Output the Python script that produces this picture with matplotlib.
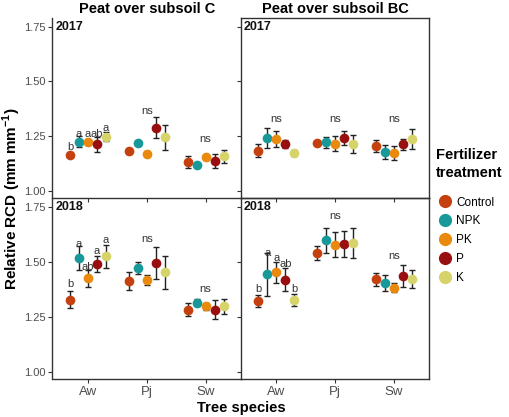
import matplotlib
matplotlib.use("Agg")
import matplotlib.pyplot as plt
from matplotlib.lines import Line2D
import numpy as np

plt.rcParams["font.family"] = ["Liberation Sans", "DejaVu Sans"]
plt.rcParams["mathtext.fontset"] = "custom"
plt.rcParams["mathtext.rm"] = "Liberation Sans"
plt.rcParams["mathtext.bf"] = "Liberation Sans:bold"

species = ["Aw", "Pj", "Sw"]
treatments = ["Control", "NPK", "PK", "P", "K"]
colors = ["#C4410F", "#17999A", "#E98A0E", "#990F0F", "#D5D36A"]

# means / errors per species (rows) and treatment (cols)
c2017_mean = [[1.164, 1.224, 1.224, 1.212, 1.248],
              [1.181, 1.219, 1.170, 1.288, 1.245],
              [1.133, 1.117, 1.153, 1.135, 1.158]]
c2017_err = [[0.008, 0.025, 0.013, 0.033, 0.020],
             [0.012, 0.008, 0.013, 0.048, 0.057],
             [0.028, 0.008, 0.012, 0.031, 0.030]]
bc2017_mean = [[1.184, 1.241, 1.236, 1.212, 1.173],
               [1.218, 1.221, 1.216, 1.241, 1.215],
               [1.204, 1.179, 1.173, 1.212, 1.236]]
bc2017_err = [[0.029, 0.044, 0.036, 0.018, 0.014],
              [0.008, 0.025, 0.036, 0.031, 0.040],
              [0.028, 0.032, 0.034, 0.025, 0.045]]
c2018_mean = [[1.327, 1.516, 1.424, 1.489, 1.525],
              [1.412, 1.473, 1.417, 1.493, 1.452],
              [1.282, 1.314, 1.297, 1.282, 1.297]]
c2018_err = [[0.039, 0.055, 0.037, 0.037, 0.052],
             [0.042, 0.027, 0.023, 0.073, 0.074],
             [0.029, 0.015, 0.014, 0.042, 0.034]]
bc2018_mean = [[1.322, 1.443, 1.453, 1.419, 1.325],
               [1.540, 1.597, 1.577, 1.582, 1.585],
               [1.420, 1.404, 1.383, 1.435, 1.421]]
bc2018_err = [[0.029, 0.097, 0.048, 0.054, 0.027],
              [0.033, 0.057, 0.057, 0.059, 0.070],
              [0.031, 0.038, 0.022, 0.050, 0.042]]

# significance letters for Aw, and "ns" labels per species
c2017_letters = ["b", "a", "a", "ab", "a"]
c2017_letter_y = [1.202, 1.261, 1.261, 1.261, 1.287]
c2017_ns_y = [None, 1.365, 1.238]
bc2017_ns_y = [1.33, 1.33, 1.33]
c2018_letters = ["b", "a", "ab", "a", "a"]
c2018_letter_y = [1.399, 1.583, 1.478, 1.547, 1.598]
c2018_ns_y = [None, 1.603, 1.378]
bc2018_letters = ["b", "a", "a", "ab", "b"]
bc2018_letter_y = [1.374, 1.539, 1.516, 1.490, 1.374]
bc2018_ns_y = [None, 1.707, 1.527]

panels = [
    (c2017_mean, c2017_err, c2017_letters, c2017_letter_y, c2017_ns_y, "2017"),
    (bc2017_mean, bc2017_err, None, None, bc2017_ns_y, "2017"),
    (c2018_mean, c2018_err, c2018_letters, c2018_letter_y, c2018_ns_y, "2018"),
    (bc2018_mean, bc2018_err, bc2018_letters, bc2018_letter_y, bc2018_ns_y, "2018"),
]

W, H = 510, 417
fig = plt.figure(figsize=(W / 100, H / 100), dpi=100)
xl, xm, xr = 52.5 / W, 241 / W, 429.5 / W
yt, ymid, yb = 1 - 18 / H, 1 - 198 / H, 1 - 379 / H
rects = [(xl, ymid, xm - xl, yt - ymid), (xm, ymid, xr - xm, yt - ymid),
         (xl, yb, xm - xl, ymid - yb), (xm, yb, xr - xm, ymid - yb)]

line_col = "#333333"
offsets = (np.arange(5) - 2) * 0.152
xpos = np.arange(1, 4)

for i, (rect, (mean, err, letters, letter_y, ns_y, year)) in enumerate(zip(rects, panels)):
    ax = fig.add_axes(rect)
    ax.patch.set_alpha(0)
    mean = np.array(mean); err = np.array(err)
    for j, tr in enumerate(treatments):
        ax.errorbar(xpos + offsets[j], mean[:, j], yerr=err[:, j], fmt="none",
                    ecolor="#222222", elinewidth=1, capsize=2.3, capthick=1, zorder=2)
        ax.plot(xpos + offsets[j], mean[:, j], "o", color=colors[j], ms=7,
                mec="none", zorder=3)
    if letters is not None:
        for j, lab in enumerate(letters):
            ax.text(1 + offsets[j], letter_y[j], lab, ha="center", va="center",
                    fontsize=8, color="#333333")
    for k, y in enumerate(ns_y):
        if y is not None:
            ax.text(xpos[k], y, "ns", ha="center", va="center", fontsize=8, color="#333333")
    ax.text(0.015, 0.985, year, transform=ax.transAxes, ha="left", va="top",
            fontsize=9, fontweight="bold", color="#111111")
    ax.set_xlim(0.4, 3.6)
    ax.set_ylim(0.967, 1.79)
    ax.set_yticks([1.00, 1.25, 1.50, 1.75])
    ax.set_xticks(xpos)
    ax.tick_params(length=3, width=0.8, color=line_col, colors="#4D4D4D")
    ax.tick_params(axis="x", labelsize=9.5, pad=2)
    ax.tick_params(axis="y", labelsize=8, pad=2)
    for s in ax.spines.values():
        s.set_color(line_col); s.set_linewidth(1)
    if i % 2 == 0:
        ax.spines["top"].set_visible(False)
        ax.spines["right"].set_visible(False)
        ax.set_yticklabels(["1.00", "1.25", "1.50", "1.75"])
    else:
        ax.set_yticklabels([])
    if i < 2:
        ax.set_xticklabels([])
    else:
        ax.set_xticklabels(species)

fig.text((xl + xm) / 2, 1 - 9 / H, "Peat over subsoil C", ha="center", va="center",
         fontsize=10.5, fontweight="bold")
fig.text((xm + xr) / 2, 1 - 9 / H, "Peat over subsoil BC", ha="center", va="center",
         fontsize=10.5, fontweight="bold")
fig.text(xm, 1 - 408 / H, "Tree species", ha="center", va="center",
         fontsize=10.5, fontweight="bold")
fig.text(12 / W, (yt + yb) / 2, r"Relative RCD (mm mm$^{\mathbf{-1}}$)", rotation=90,
         ha="center", va="center", fontsize=11, fontweight="bold")

handles = [Line2D([], [], marker="o", ls="none", color=c, ms=9.5, mec="none") for c in colors]
leg = fig.legend(handles, treatments, title="Fertilizer\ntreatment", loc="upper left",
                 bbox_to_anchor=(436 / W, 1 - 148 / H), frameon=False, fontsize=8.5,
                 title_fontsize=10.5, handletextpad=0.1, labelspacing=0.58,
                 handlelength=1.6, borderaxespad=0, borderpad=0)
leg.get_title().set_fontweight("bold")
leg.get_title().set_linespacing(1.35)
leg._legend_box.align = "left"
leg._legend_box.sep = 12

fig.savefig("out.png", dpi=100)
